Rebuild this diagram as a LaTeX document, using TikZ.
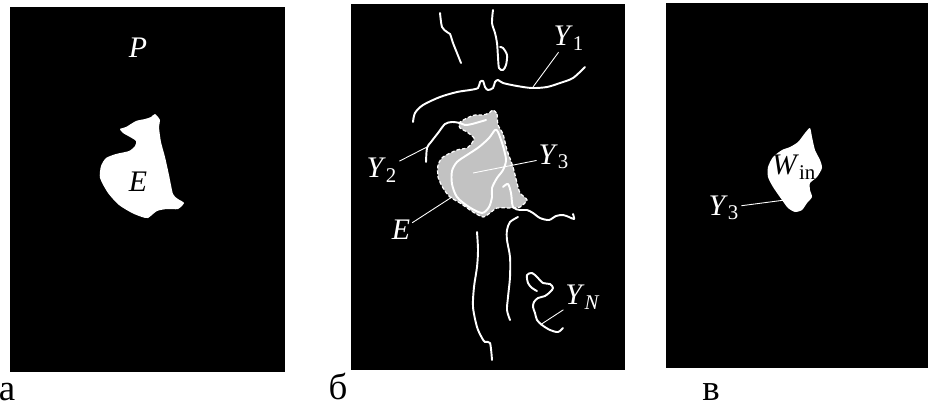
\documentclass[tikz,border=0pt]{standalone}
\usepackage{fontspec}
\setmainfont{Liberation Serif}
\definecolor{regiongray}{gray}{0.76}
\newcommand{\sublab}[2]{\textit{#1}\textsubscript{#2}}
\begin{document}
\begin{tikzpicture}[x=0.02cm,y=-0.02cm,
  panel/.style={fill=black},
  trace/.style={white,line width=1.1pt,line cap=round,line join=round},
  lead/.style={white,line width=0.5pt},
  lbl/.style={inner sep=1pt,font=\fontsize{17}{20}\selectfont},
  tag/.style={inner sep=0pt,font=\fontsize{21}{25}\selectfont}]
\useasboundingbox (0,0) rectangle (928,410);
\fill[panel] (10,7) rectangle (285,372);
\fill[panel] (351,4) rectangle (625,370);
\fill[panel] (666,3) rectangle (928,368);

% panel a
\fill[white] plot[smooth cycle,tension=0.4] coordinates {(155,114) (160,120) (159,127) (161,142) (165,157) (169,175) (173,194) (178,199) (184,203) (178,209) (167,209) (157,211) (148,218) (142,217) (132,213) (119,205) (108,193) (100,178) (101,166) (106,158) (116,154) (129,151) (135,146) (136,141) (130,137) (123,133) (120,129) (126,127) (136,121) (145,119) (151,117)};
\node[lbl,white] (P) at (138,48) {\textit{P}};
\node[lbl] (Ea) at (138,182) {\textit{E}};
\node[tag] (ta) at (7,392) {а};

% panel b
\fill[regiongray] plot[smooth cycle,tension=0.4] coordinates {(493,110) (497,114) (498,125) (503,134) (507,150) (513,167) (517,183) (520,193) (527,200) (520,207) (511,208) (497,208) (490,213) (483,217) (473,212) (460,203) (450,197) (443,188) (438,177) (438,165) (443,157) (457,150) (467,148) (472,143) (474,138) (467,132) (460,128) (459,123) (467,118) (475,115) (483,115) (489,113)};
\draw[white,line width=0.7pt,dash pattern=on 2pt off 1.2pt] plot[smooth cycle,tension=0.4] coordinates {(493,110) (497,114) (498,125) (503,134) (507,150) (513,167) (517,183) (520,193) (527,200) (520,207) (511,208) (497,208) (490,213) (483,217) (473,212) (460,203) (450,197) (443,188) (438,177) (438,165) (443,157) (457,150) (467,148) (472,143) (474,138) (467,132) (460,128) (459,123) (467,118) (475,115) (483,115) (489,113)};
\draw[trace] plot[smooth cycle,tension=0.5] coordinates {(495,130) (489,138) (479,147) (467,155) (457,162) (452,171) (452,184) (457,197) (469,207) (482,213) (489,207) (492,197) (492,188) (497,178) (503,170) (506,160) (503,146) (498,132)};
\draw[trace] plot[smooth,tension=0.5] coordinates {(503,187) (508,184) (511,193) (513,207) (520,210) (527,210) (533,213) (540,218) (549,220) (556,216) (563,215) (569,217) (574,219) (573,214)};
\draw[trace] plot[smooth,tension=0.5] coordinates {(426,162) (427,148) (431,142) (438,133) (445,124) (452,122) (460,123) (465,125) (472,124) (486,120)};
\draw[trace] plot[smooth,tension=0.5] coordinates {(440,13) (442,27) (447,32) (450,34) (453,43) (457,53) (461,63)};
\draw[trace] plot[smooth,tension=0.5] coordinates {(493,10) (492,23) (495,33) (497,43) (498,57) (499,68) (503,70) (506,65) (507,55) (503,48) (500,47)};
\draw[trace] plot[smooth,tension=0.5] coordinates {(413,122) (415,113) (423,105) (440,97) (457,92) (470,90) (478,88) (480,82) (483,81) (485,87) (488,90) (493,88) (495,82) (498,80) (503,83) (517,86) (532,88) (547,87) (560,83) (573,78) (585,67)};
\draw[trace] plot[smooth,tension=0.5] coordinates {(477,232) (478,250) (477,267) (474,287) (473,307) (477,327) (482,338) (485,342) (490,343) (492,360)};
\draw[trace] plot[smooth,tension=0.5] coordinates {(518,217) (510,222) (507,230) (507,240) (510,257) (510,277) (508,297) (507,310) (510,320)};
\draw[trace] plot[smooth,tension=0.5] coordinates {(537,291) (532,288) (528,283) (527,275) (532,273) (537,277) (543,283) (550,284) (553,288) (550,292) (545,296) (538,298) (534,302) (533,307) (535,313) (537,320) (542,325) (550,330) (558,332) (563,328)};
\node[lbl,white] (Y1) at (569,38) {\sublab{Y}{1}};
\node[lbl,white] (Y2) at (382,170) {\sublab{Y}{2}};
\node[lbl,white] (Y3) at (554,157) {\sublab{Y}{3}};
\node[lbl,white] (Eb) at (401,230) {\textit{E}};
\node[lbl,white] (YN) at (583,297) {\sublab{Y}{\textit{N}}};
\coordinate (y1p) at (533,87);
\coordinate (y2p) at (427,147);
\coordinate (y3p) at (473,173);
\coordinate (ebp) at (452,197);
\coordinate (ynp) at (540,325);
\draw[lead] (Y1) -- (y1p);
\draw[lead] (Y2) -- (y2p);
\draw[lead] (Y3) -- (y3p);
\draw[lead] (Eb) -- (ebp);
\draw[lead] (YN) -- (ynp);
\node[tag] (tb) at (338,386) {б};

% panel c
\fill[white] plot[smooth cycle,tension=0.4] coordinates {(810,128) (812,137) (815,150) (820,160) (822,168) (817,177) (810,183) (810,190) (812,197) (807,203) (802,210) (795,212) (788,208) (782,200) (773,187) (768,177) (768,167) (773,157) (782,150) (790,147) (798,142) (805,133)};
\node[lbl] (Win) at (794,167) {\sublab{W}{in}};
\node[lbl,white] (Y3c) at (724,208) {\sublab{Y}{3}};
\coordinate (y3c) at (785,200);
\draw[lead] (Y3c) -- (y3c);
\node[tag] (tc) at (711,392) {в};
\end{tikzpicture}
\end{document}
